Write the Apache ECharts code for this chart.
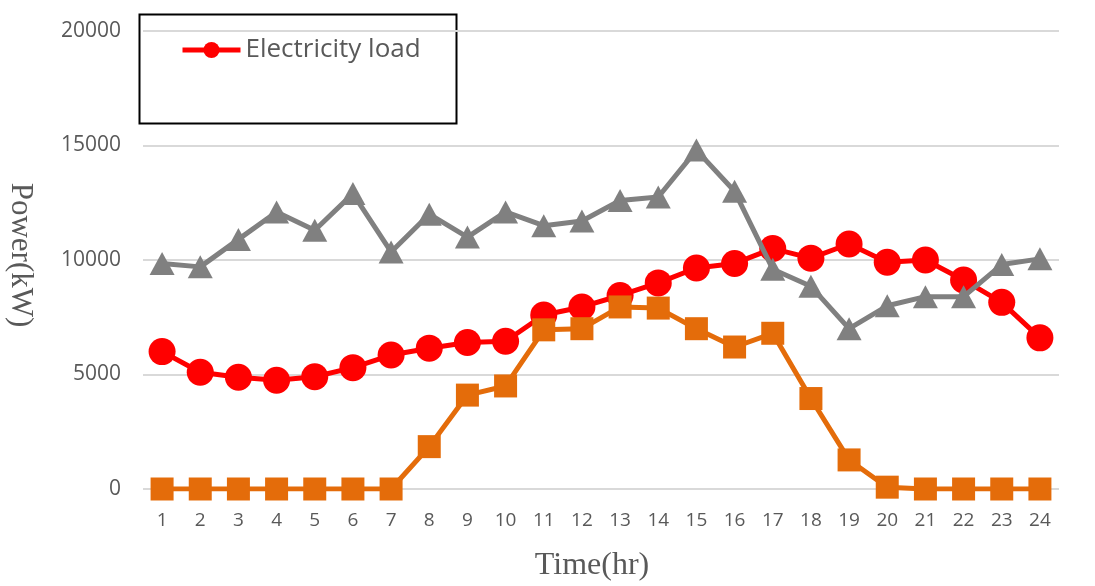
<!DOCTYPE html>
<html><head><meta charset="utf-8">
<script src="https://cdn.jsdelivr.net/npm/echarts@6/dist/echarts.min.js"></script>
<style>html,body{margin:0;padding:0;background:#fff}#c{width:1095px;height:586px}</style>
</head><body><div id="c"></div>
<script>
const hours = ['1','2','3','4','5','6','7','8','9','10','11','12','13','14','15','16','17','18','19','20','21','22','23','24'];
const yTicks = [0, 5000, 10000, 15000, 20000];
const load = [6000,5100,4880,4750,4900,5300,5850,6150,6400,6450,7600,7950,8450,9000,9650,9850,10500,10080,10700,9900,10000,9130,8150,6600];
const pv = [0,0,0,0,0,0,0,1850,4100,4500,6950,7000,7950,7900,7000,6200,6800,3950,1270,80,0,0,0,0];
const wind = [9850,9700,10900,12100,11300,12900,10350,12000,11000,12100,11500,11700,12600,12750,14800,13000,9600,8850,7000,8000,8400,8400,9800,10050];

const chart = echarts.init(document.getElementById('c'));
chart.setOption({
  animation: false,
  grid: {left: 143, right: 36, top: 31, bottom: 97, outerBoundsMode: 'none'},
  legend: {
    data: ['Electricity load'],
    left: 180, top: 37, padding: 0,
    itemWidth: 58, itemHeight: 20, itemGap: 4,
    lineStyle: {width: 5},
    textStyle: {fontFamily: 'Open Sans', fontSize: 26, color: '#595959'}
  },
  graphic: [{
    type: 'rect', left: 137, top: 12, z: 0,
    shape: {width: 317, height: 109},
    style: {fill: 'none', stroke: '#000', lineWidth: 2}
  }],
  xAxis: {
    type: 'category', data: hours, boundaryGap: true,
    axisLine: {show: false}, axisTick: {show: false},
    axisLabel: {fontFamily: 'Open Sans', fontSize: 19, color: '#595959', margin: 22},
    name: 'Time(hr)', nameLocation: 'middle', nameGap: 61,
    nameTextStyle: {fontFamily: 'Liberation Serif', fontSize: 32, color: '#595959', padding: [0, 18, 0, 0]}
  },
  yAxis: {
    type: 'value', min: 0, max: 20000, interval: 5000,
    axisLine: {show: false}, axisTick: {show: false},
    splitLine: {lineStyle: {color: '#d9d9d9', width: 2}},
    axisLabel: {fontFamily: 'Open Sans', fontSize: 21, color: '#595959', margin: 22,
      formatter: v => yTicks.includes(v) ? String(v) : ''},
    name: 'Power(kW)', nameLocation: 'middle', nameGap: 107, nameRotate: -90,
    nameTextStyle: {fontFamily: 'Liberation Serif', fontSize: 31, color: '#595959', padding: [0, 10, 0, 0]}
  },
  series: [
    {name: 'Electricity load', type: 'line', data: load, symbol: 'circle', symbolSize: 27,
      lineStyle: {color: '#FF0000', width: 5}, itemStyle: {color: '#FF0000'}, z: 2},
    {name: 'PV', type: 'line', data: pv, symbol: 'rect', symbolSize: 23,
      lineStyle: {color: '#E46C0A', width: 5}, itemStyle: {color: '#E46C0A'}, z: 3},
    {name: 'Wind', type: 'line', data: wind, symbol: 'triangle', symbolSize: [25, 23],
      lineStyle: {color: '#808080', width: 5}, itemStyle: {color: '#808080'}, z: 4}
  ]
});
</script></body></html>
